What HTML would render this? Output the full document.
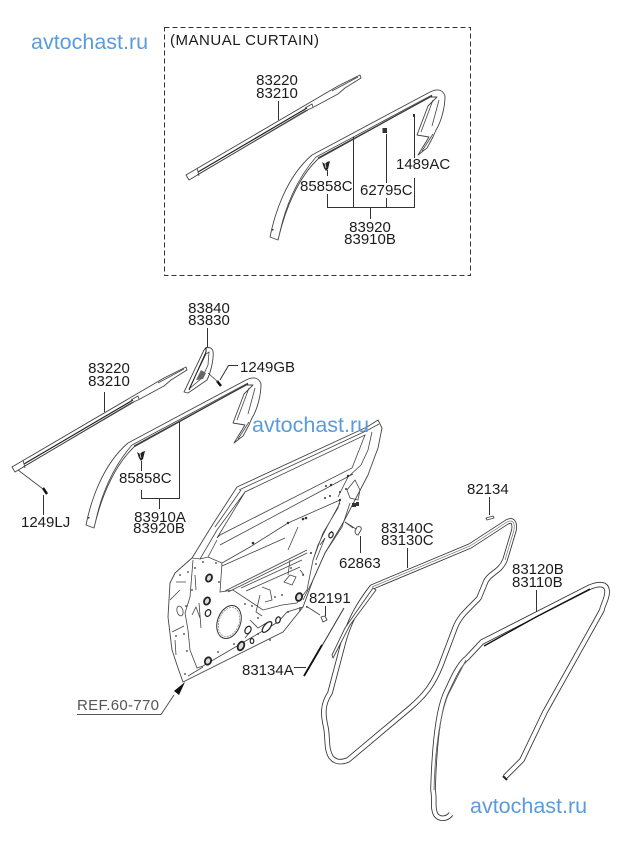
<!DOCTYPE html>
<html><head><meta charset="utf-8"><style>
html,body{margin:0;padding:0;background:#fff}
svg{display:block}
text{font-family:"Liberation Sans",sans-serif;font-size:15px;fill:#1c1c1c}
.w{font-size:21.5px;fill:#5a9bdc}
.m{text-anchor:middle}
.l{fill:none;stroke:#333;stroke-width:1}
.t{fill:none;stroke:#444;stroke-width:.8}
.f{fill:#fff;stroke:#444;stroke-width:.9;stroke-linejoin:round}
.d{fill:#333}
</style></head><body>
<svg width="620" height="848" viewBox="0 0 620 848" xmlns="http://www.w3.org/2000/svg">
<defs>
<g id="strip">
<path class="f" d="M186 175 L338 86 L360 75 L361 78 L345 88 L338 94 L312 108 L305 111 L189 180 Z"/>
<path d="M198 172 L307 108" stroke="#222" stroke-width="1.200" fill="none"/>
<path class="t" d="M197 175 L308 110 M197 168 L199 176 M332 91 L358 77 M305 108 L312 104 L313 107"/>
</g>
<g id="mould">
<path class="f" d="M270 237 C274 217 285 178 312 155 L430 92 C438 88 443 90 445 96 C445 108 441 122 436 130 L433 137 L427 148 L418 155 L429 137 L417 135 L428 106 L437 97 L430 97 L318 159 C300 176 286 205 278 240 Z"/>
<path class="t" d="M316 157 L432 95 M280 232 C285 208 296 180 316 157 M433 100 L421 132 M439 100 L432 126 M422 151 L433 134"/>
<path d="M318 158 L432 96" stroke="#333" stroke-width="1" fill="none"/>
<rect x="272" y="229" width="1.500" height="1.500" fill="#333"/>
</g>
<g id="clip">
<path d="M-4 -3 L-1 -1 L1 -3 L4 -4 L3 0 L2 4 L0 6 L-2 3 Z" fill="#222"/>
<path d="M-1 -1 L0 3" stroke="#fff" stroke-width=".7"/>
</g>
</defs>

<rect x="164.500" y="27.500" width="306" height="248" fill="none" stroke="#333" stroke-width="1" stroke-dasharray="5 3"/>
<text x="170" y="45" textLength="149">(MANUAL CURTAIN)</text>
<use href="#strip"/>
<use href="#mould"/>
<use href="#clip" x="326" y="165"/>
<rect x="382.500" y="128" width="4.500" height="5" fill="#333"/>
<rect x="413" y="114" width="2" height="3" fill="#333"/>
<path class="l" d="M278.500 101V120M327.500 170V176M327.500 194V207.500H414.500V178M414.500 158V117M353.500 137V207M386.500 134V183M386.500 198V207M370.500 208V219"/>
<text class="m" x="277" y="85">83220</text>
<text class="m" x="277" y="98">83210</text>
<text x="300" y="191">85858C</text>
<text x="360" y="195">62795C</text>
<text x="396" y="169">1489AC</text>
<text class="m" x="370" y="232">83920</text>
<text class="m" x="370" y="244">83910B</text>

<use href="#strip" x="-174" y="292"/>
<use href="#mould" x="-184" y="288"/>
<use href="#clip" x="141" y="455"/>
<path class="f" d="M184 392 L204 350 C206 347 211 346 213 351 C214 358 211 372 207 380 L188 393 Z"/>
<path class="t" d="M189 389 L206 354 L209 352 L208 365 L202 378 Z"/>
<path d="M196 380 L201 370 L206 373 L203 379 Z" fill="#666"/>
<path d="M206 347 L206 352 L189 390" stroke="#222" fill="none"/>
<path d="M217 381 L221 386" stroke="#111" stroke-width="2.500"/>
<path class="t" d="M208 373 L218 382"/>
<path d="M43 488 L47 494" stroke="#111" stroke-width="2.500"/>
<path class="t" d="M18 470 L43 489"/>
<path class="l" d="M207.500 328V347M238 365.500H228.500L220 380M104.500 392V412M141.500 461V471M141.500 490V498.500H179.500V421M159.500 499V509M43.500 495V515"/>
<text class="m" x="209" y="313">83840</text>
<text class="m" x="209" y="325">83830</text>
<text x="240" y="372">1249GB</text>
<text class="m" x="109" y="373">83220</text>
<text class="m" x="109" y="386">83210</text>
<text x="119" y="483">85858C</text>
<text class="m" x="160" y="522">83910A</text>
<text class="m" x="159" y="533">83920B</text>
<text x="21" y="527">1249LJ</text>

<!-- door -->
<path class="f" d="M183 682 L178 668 L172 650 L168 617 L170 583 L175 573 L192 558 L213 524 L237 487 L367 427 L378 420 L382 428 L378 448 L368 475 L343 523 L325 553 L313 580 L303 607 L283 632 Z"/>
<path class="t" d="M239 490 L368 430 L379 424 M215 527 L241 490 M192 558 L200 559 L217 530 L245 492 L365 435 L352 468 L220 535 L217 538 L245 492 M200 559 L208 557 L222 563 L220 592 L233 590 L263 610 L282 605 L297 603 L307 590 L313 560 L323 533 L338 508 L340 500 L288 523 L250 547 L222 563 M208 557 L217 540 M361 465 L348 477 L338 497 M361 465 L368 450 L372 432 M220 545 L353 474 M222 566 L285 538 M298 527 L288 550 M225 591 L307 550 M228 592 L307 553 M241 588 L302 560 M246 591 L300 567 M340 503 L328 525 L318 545 L313 560 M350 503 L342 527 L325 553 L313 580 L303 600 M193 560 L190 597 L185 613 L188 630 L190 650 L197 668 L203 666 L278 622 L287 612 L303 607 M188 676 L203 667 M176 582 L186 582 M170 600 L180 590 M172 632 L184 626 M175 640 L176 655 M195 575 L196 590 M199 603 L201 628 M192 615 L196 607 L200 618 M260 595 L256 612 L262 616 M262 587 L270 590 L272 600 L265 602 M250 620 L258 628 L268 622 M245 638 L250 632 M345 522 L353 528 M331 531 L333 533 M290 575 L296 577 L292 585 L284 582 Z M355 480 L347 490 L350 498 L358 500 L360 490 Z M290 560 L288 575 M300 570 L304 575 M320 545 L325 538 L316 560"/>
<ellipse cx="180" cy="611" rx="3" ry="5" fill="#fff" stroke="#444" stroke-width=".8" transform="rotate(-15 180 611)"/>
<ellipse cx="229" cy="622" rx="11.500" ry="17" transform="rotate(20 229 622)" fill="#fff" stroke="#333"/>
<ellipse cx="229" cy="622" rx="10" ry="15" transform="rotate(20 229 622)" fill="none" stroke="#666" stroke-width=".6" stroke-dasharray="2 1"/>
<g fill="#ddd" stroke="#222" stroke-width="1.800">
<ellipse cx="209" cy="578" rx="2.800" ry="3.800" transform="rotate(25 209 578)"/><ellipse cx="207" cy="601" rx="2.800" ry="3.800" transform="rotate(25 207 601)"/><ellipse cx="208" cy="661" rx="3" ry="3.800" transform="rotate(25 208 661)"/><ellipse cx="241" cy="646" rx="3" ry="4.500" transform="rotate(25 241 646)"/><ellipse cx="299" cy="597" rx="3" ry="4" transform="rotate(20 299 597)"/>
</g>
<g fill="#fff" stroke="#222" stroke-width="1.200">
<ellipse cx="208" cy="613" rx="2.600" ry="3.500" transform="rotate(25 208 613)"/><ellipse cx="248" cy="630" rx="2.800" ry="4" transform="rotate(30 248 630)"/><ellipse cx="252" cy="641" rx="1.800" ry="2.500"/><ellipse cx="267" cy="627" rx="3" ry="6.500" transform="rotate(40 267 627)"/><ellipse cx="278" cy="620" rx="2.200" ry="3.200" transform="rotate(20 278 620)"/><ellipse cx="331" cy="535" rx="2" ry="3" transform="rotate(25 331 535)"/>
</g>
<g class="d"><rect x="352" y="503" width="4" height="4"/><rect x="356" y="502" width="3" height="4"/>
<circle cx="180" cy="575" r=".9"/><circle cx="188" cy="572" r=".9"/><circle cx="195" cy="568" r=".9"/><circle cx="203" cy="562" r=".9"/><circle cx="216" cy="563" r=".9"/><circle cx="219" cy="582" r=".9"/><circle cx="192" cy="590" r=".9"/><circle cx="186" cy="606" r=".9"/><circle cx="176" cy="636" r=".9"/><circle cx="184" cy="634" r=".9"/><circle cx="187" cy="651" r=".9"/><circle cx="185" cy="674" r=".9"/><circle cx="218" cy="652" r=".9"/><circle cx="234" cy="644" r=".9"/><circle cx="258" cy="634" r=".9"/><circle cx="270" cy="640" r=".9"/><circle cx="245" cy="604" r=".9"/><circle cx="252" cy="606" r=".9"/><circle cx="258" cy="618" r=".9"/><circle cx="288" cy="612" r=".9"/><circle cx="300" cy="610" r=".9"/><circle cx="307" cy="607" r=".9"/><circle cx="275" cy="597" r=".9"/><circle cx="282" cy="595" r=".9"/><circle cx="253" cy="543" r="1.300"/><circle cx="288" cy="523" r="1.200"/><circle cx="303" cy="519" r="1.300"/><circle cx="306" cy="518" r="1.300"/><circle cx="325" cy="498" r="1"/><circle cx="330" cy="496" r="1"/><circle cx="326" cy="486" r="1"/><circle cx="331" cy="485" r="1.200"/><circle cx="340" cy="492" r="1"/><circle cx="346" cy="489" r="1"/><circle cx="348" cy="476" r="1.200"/><circle cx="340" cy="500" r="1.200"/><circle cx="311" cy="553" r="1"/><circle cx="316" cy="564" r=".9"/><circle cx="303" cy="575" r=".9"/><circle cx="291" cy="568" r=".9"/><circle cx="300" cy="608" r=".9"/></g>
<path class="f" d="M357 527 C360 526 362 527 361 530 L358 535 C356 535 355 533 355 531 Z"/>
<path class="t" d="M345 522 L356 529"/>
<path class="l" d="M360.500 536V553"/>
<text x="339" y="568">62863</text>
<path class="t" d="M306 606 L320 615"/>
<path class="f" d="M321 617 L325 616 L327 620 L323 622 Z"/>
<path class="l" d="M325.500 606V616"/>
<text x="309" y="603">82191</text>
<path d="M305 675 L344 608" stroke="#333" stroke-width="1" fill="none"/>
<path d="M304 676 L322 645" stroke="#111" stroke-width="1.800" fill="none"/>
<path class="l" d="M294 667.500H306"/>
<text x="242" y="675">83134A</text>

<text x="77" y="710" textLength="82" style="fill:#555">REF.60-770</text>
<path d="M77 714.500H161L174 695" fill="none" stroke="#555"/>
<path d="M185 682 L174 691 L179 695 Z" fill="#111"/>

<!-- door seal -->
<path d="M372 587 L470 546 L507 522 C513 519 515 523 514 530 L505 560 C500 572 490 573 486 581 L479 598 C468 610 460 615 455 628 L441 665 C433 685 425 695 410 708 L348 760 C340 763 335 762 331 757 C326 749 328 740 326 728 C323 715 322 705 330 693 L344 640 C350 620 358 605 372 587 Z" fill="none" stroke="#333" stroke-width="5.500" stroke-linejoin="round"/>
<path d="M372 587 L470 546 L507 522 C513 519 515 523 514 530 L505 560 C500 572 490 573 486 581 L479 598 C468 610 460 615 455 628 L441 665 C433 685 425 695 410 708 L348 760 C340 763 335 762 331 757 C326 749 328 740 326 728 C323 715 322 705 330 693 L344 640 C350 620 358 605 372 587 Z" fill="none" stroke="#fff" stroke-width="3.800" stroke-linejoin="round"/>
<path d="M372 587 L470 546 L507 522 C513 519 515 523 514 530 L505 560" fill="none" stroke="#777" stroke-width=".7"/>
<path class="f" d="M373 588 L345 628 L332 655 L333 658 L350 625 L376 590 Z"/>
<path class="l" d="M407.500 548V568M489.500 497V515"/>
<path class="f" d="M486 518 L493 516 L494 518 L487 520 Z"/>
<text x="381" y="533">83140C</text>
<text x="381" y="545">83130C</text>
<text x="467" y="494">82134</text>

<!-- body seal -->
<path d="M451 814 C447 819 440 820 436 815 C432 808 435 800 433 790 C434 755 437 715 445 695 C452 680 458 665 467 658 L482 642 L590 587 C600 583 606 584 607 590 C608 598 602 606 602 610 L592 628 L545 712 L522 760 L510 772 L505 777" fill="none" stroke="#333" stroke-width="5.500" stroke-linejoin="round"/>
<path d="M451 814 C447 819 440 820 436 815 C432 808 435 800 433 790 C434 755 437 715 445 695 C452 680 458 665 467 658 L482 642 L590 587 C600 583 606 584 607 590 C608 598 602 606 602 610 L592 628 L545 712 L522 760 L510 772 L505 777" fill="none" stroke="#fff" stroke-width="3.800" stroke-linejoin="round"/>
<path d="M484 646 L536 617 L590 589" fill="none" stroke="#111" stroke-width="1.300"/>
<path d="M434 790 C435 750 440 715 448 695 L466 660" fill="none" stroke="#666" stroke-width=".9"/>
<path d="M503 776 L507 780" stroke="#222" stroke-width="2"/>
<path class="l" d="M536.500 590V612"/>
<text x="512" y="574">83120B</text>
<text x="512" y="587">83110B</text>

<text class="w" x="31" y="49">avtochast.ru</text>
<text class="w" x="252" y="432">avtochast.ru</text>
<text class="w" x="470" y="813">avtochast.ru</text>
</svg>
</body></html>
